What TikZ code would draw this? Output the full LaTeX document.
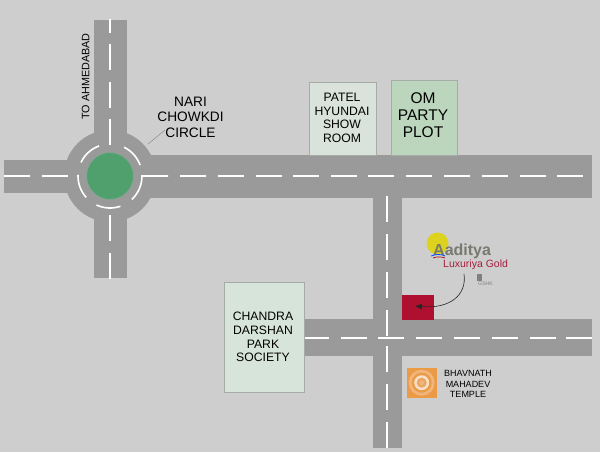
\documentclass[tikz,border=0pt]{standalone}
\usepackage{fontspec}
\usetikzlibrary{arrows.meta}
\setmainfont{Liberation Sans}
\definecolor{bg}{HTML}{CECECE}
\definecolor{road}{HTML}{9A9A9A}
\definecolor{circ}{HTML}{50A06E}
\definecolor{circedge}{HTML}{84A690}
\definecolor{pale}{HTML}{D9E3DB}
\definecolor{om}{HTML}{BBD6BC}
\definecolor{chand}{HTML}{D7E4D9}
\definecolor{boxedge}{HTML}{A5ABA6}
\definecolor{redbox}{HTML}{B0102F}
\definecolor{lux}{HTML}{A31F3C}
\definecolor{adi}{HTML}{787A70}
\definecolor{sun}{HTML}{DDD21E}
\definecolor{tempa}{HTML}{EB9A45}
\definecolor{tempb}{HTML}{F0B57C}
\definecolor{tempc}{HTML}{E8A563}
\definecolor{tempd}{HTML}{F8E0C6}
\tikzset{
  roadfill/.style={fill=road,draw=none},
  lane/.style={draw=white,line width=2pt},
  plot/.style={draw=boxedge,line width=0.8pt,align=center,text=black,inner sep=0pt,anchor=north west},
  lbl/.style={align=center,text=black,inner sep=0pt}
}
\begin{document}
\begin{tikzpicture}[x=1pt,y=-1pt]
\useasboundingbox (0,0) rectangle (600,452);
\fill[bg] (0,0) rectangle (600,452);
% roads
\fill[roadfill] (4,160) rectangle (110,192.7);
\fill[roadfill] (110,155) rectangle (591.7,197.7);
\fill[roadfill] (94.3,20) rectangle (126.7,278);
\fill[roadfill] (110,176) circle (46);
\fill[roadfill] (373,197) rectangle (402,448);
\fill[roadfill] (290,319.3) rectangle (591.7,355.7);
% dashes
\foreach \x in {4,42,180,218,256,293,331,368,406,444,482,520,557}
  \draw[lane] (\x,176.3) -- ++(25.5,0);
\foreach \x in {303,341,378,416,454,492,530,566}
  \draw[lane] (\x,337.5) -- ++(25.5,0);
\foreach \y in {44,82,119,215,253}
  \draw[lane] (110.3,\y) -- ++(0,26);
\draw[lane] (110.3,19) -- (110.3,33);
\foreach \y in {196,234,272,310,346,384,422}
  \draw[lane] (386.8,\y) -- ++(0,25.5);
% roundabout
\foreach \a/\b in {205/250,296/340,138/182,71/115}
  \draw[lane,line width=1.6pt] ({110+32*cos(\a)},{176+32*sin(\a)}) arc[start angle=\a,end angle=\b,x radius=32,y radius=32];
\draw[lane,line width=1.6pt] ({110+32*cos(47)},{176+32*sin(47)}) arc[start angle=47,end angle=0,x radius=32,y radius=32] -- (168,176);
\fill[circ,draw=circedge,line width=0.8pt] (110,176) circle (23.5);
% plots
\node[plot,fill=pale,minimum width=67,minimum height=73] (patel) at (308.5,82) {};
\node[lbl,font=\fontsize{12.2}{13.7}\selectfont] (patelt) at (342,118) {PATEL\\HYUNDAI\\SHOW\\ROOM};
\node[plot,fill=om,minimum width=66.5,minimum height=75] (om) at (390.8,80) {};
\node[lbl,font=\fontsize{15.5}{17}\selectfont] (omt) at (423,115.5) {OM\\PARTY\\PLOT};
\node[plot,fill=chand,minimum width=79.5,minimum height=110.5] (chandra) at (224.3,281.7) {};
\node[lbl,font=\fontsize{12.2}{13.8}\selectfont] (chandrat) at (263,337) {CHANDRA\\DARSHAN\\PARK\\SOCIETY};
\node[lbl,font=\fontsize{13.7}{15.4}\selectfont] (nari) at (190.5,117) {NARI\\CHOWKDI\\CIRCLE};
\node[lbl,rotate=90,font=\fontsize{10.8}{12}\selectfont] (ahm) at (85.7,76.5) {TO AHMEDABAD};
\coordinate (cnr) at (147.7,144.3);
\coordinate (cnr2) at (165,130);
\draw[draw=gray,line width=0.4pt] (cnr) -- (cnr2);
% logo
\fill[sun] (437.5,243.5) circle (11);
\node[lbl,font=\bfseries\fontsize{16}{16}\selectfont,text=adi,anchor=base west] (aad) at (433,255.5) {Aaditya};
\node[lbl,font=\fontsize{10.5}{10.5}\selectfont,text=lux,anchor=base west] (luxt) at (443,267.5) {Luxuriya Gold};
\draw[blue!70!cyan,line width=0.8pt] (431,256) .. controls (436,254) and (441,254) .. (445,256);
\draw[red!70!black,line width=0.7pt] (433,258) .. controls (437,256.5) and (441,256.5) .. (445,258);
\node[lbl,font=\fontsize{5.2}{5.2}\selectfont,text=gray,anchor=west] (gshk) at (478,284) {GSHK};
\fill[gray] (477,274) rectangle (481.5,281);
% red box and arrow
\node[draw=none,fill=redbox,minimum width=32,minimum height=25,inner sep=0pt,anchor=north west] (red) at (402,295) {};
\coordinate (arrs) at (464,274);
\coordinate (arrt) at (415,306);
\draw[-{Latex[length=7pt,width=6pt]},line width=0.6pt,draw=black!85] (arrs) .. controls (467,295) and (450,309) .. (arrt);
% temple
\node[fill=tempa,minimum width=30,minimum height=30,inner sep=0pt,anchor=north west] (temple) at (407,368) {};
\foreach \r/\c in {13/tempb,10/tempa,7.5/tempd,5/tempc,2.5/tempb}
  \fill[\c] (421.7,382.7) circle (\r);
\node[lbl,font=\fontsize{9}{10.7}\selectfont] (tempt) at (468,384) {BHAVNATH\\MAHADEV\\TEMPLE};
\end{tikzpicture}
\end{document}
